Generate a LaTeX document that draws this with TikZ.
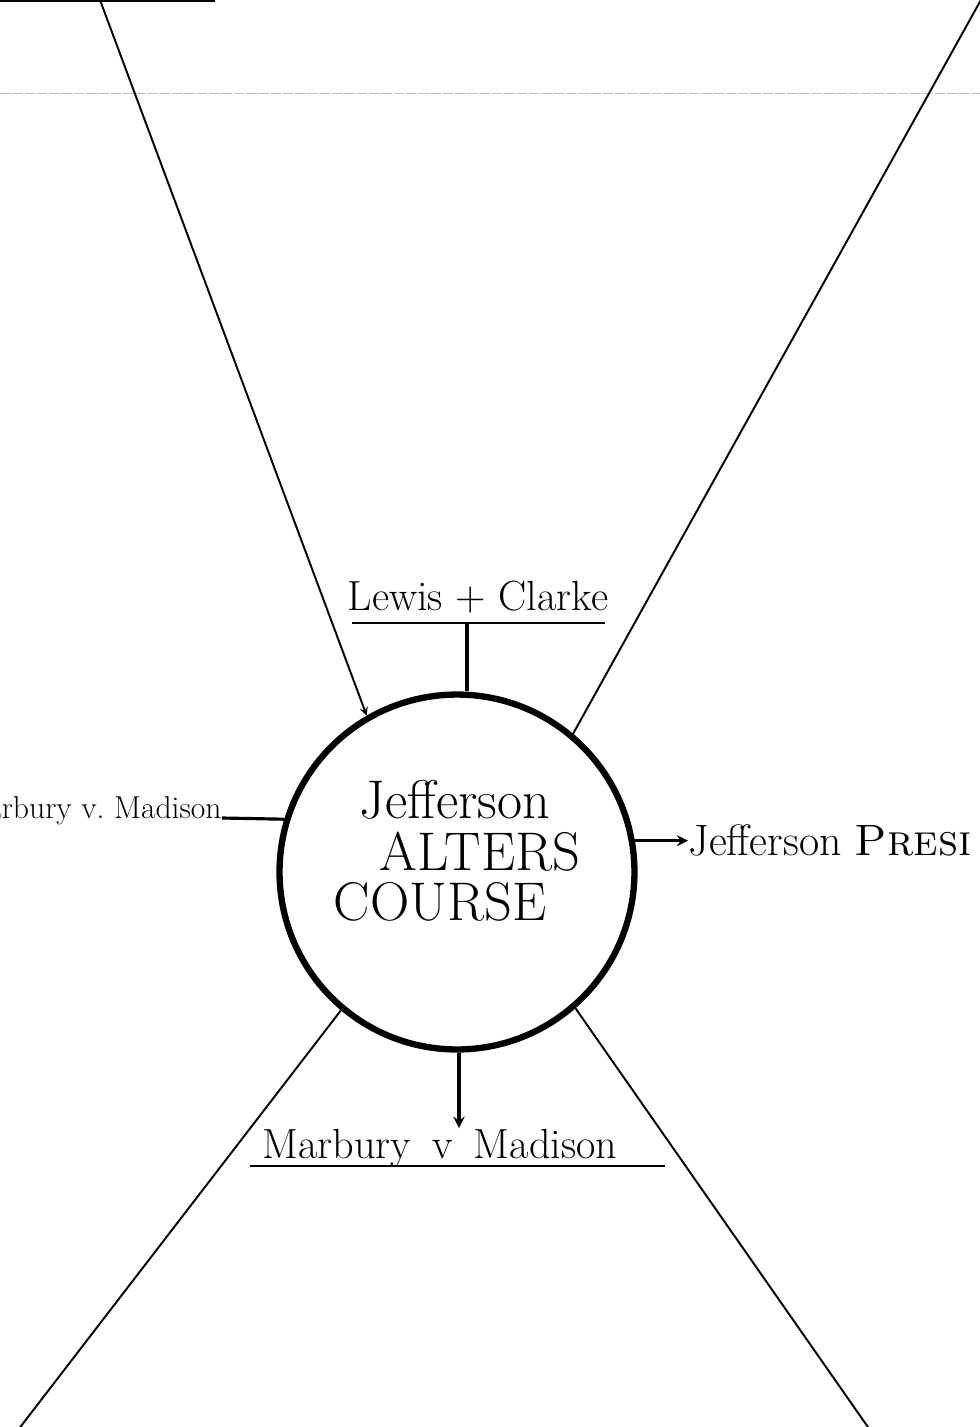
\documentclass[tikz,border=0pt]{standalone}
\usetikzlibrary{positioning}
\begin{document}
\begin{tikzpicture}[>=stealth, x=0.02cm, y=-0.02cm,
  spoke/.style={line width=1.1pt},
  stub/.style={line width=1.8pt},
  hand/.style={font=\fontsize{24}{28}\selectfont, inner sep=0pt},
  core/.style={font=\fontsize{31}{36}\selectfont}]
\useasboundingbox (0,0) rectangle (980,1427);
\clip (0,0) rectangle (980,1427);
% page rules
\coordinate (rulea) at (0,1);
\coordinate (ruleb) at (215,1);
\coordinate (scana) at (0,93);
\coordinate (scanb) at (980,93);
\draw[line width=1.2pt] (rulea) -- (ruleb);
\draw[gray!50, line width=0.4pt, dash pattern=on 6pt off 1pt] (scana) -- (scanb);
% centre
\node[draw, circle, line width=3.6pt, minimum size=7.1cm, inner sep=0pt] (topic) at (457,872) {};
\node[core] (jeff) at (455,800) {Jefferson};
\node[core] (alters) at (480,852) {ALTERS};
\node[core] (course) at (440,902) {COURSE};
% corner spokes
\coordinate (tl) at (100,0);
\coordinate (tr) at (982,-2);
\coordinate (bl) at (18,1430);
\coordinate (br) at (870,1430);
\draw[spoke, ->] (tl) -- (topic.120);
\draw[spoke] (tr) -- (topic.50);
\draw[spoke] (topic.230) -- (bl);
\draw[spoke] (topic.-49) -- (br);
% top
\node[hand, anchor=base] (lewis) at (478,610) {Lewis + Clarke};
\coordinate (lcl) at (352,623);
\coordinate (lcr) at (605,623);
\coordinate (lcbar) at (467,623);
\draw[line width=1.2pt] (lcl) -- (lcr);
\draw[stub] (lcbar) -- (lcbar |- topic.north);
% left
\node[hand, font=\fontsize{18}{22}\selectfont, anchor=base east] (madl) at (222,818) {Marbury v.\ Madison};
\draw[stub] (madl.base east) -- (topic.163);
% right
\node[hand, font=\fontsize{25}{29}\selectfont, anchor=base west] (pres) at (688,855) {Jefferson \textsc{Presi}};
\draw[stub, ->] (topic.10) -- (pres.west |- topic.10);
% bottom
\node[hand, anchor=base] (marb) at (440,1158) {Marbury\enspace v\enspace Madison};
\coordinate (mvl) at (250,1166);
\coordinate (mvr) at (665,1166);
\coordinate (mvtip) at (459,1128);
\draw[line width=1.2pt] (mvl) -- (mvr);
\draw[stub, ->] (topic.south -| mvtip) -- (mvtip);
\end{tikzpicture}
\end{document}
